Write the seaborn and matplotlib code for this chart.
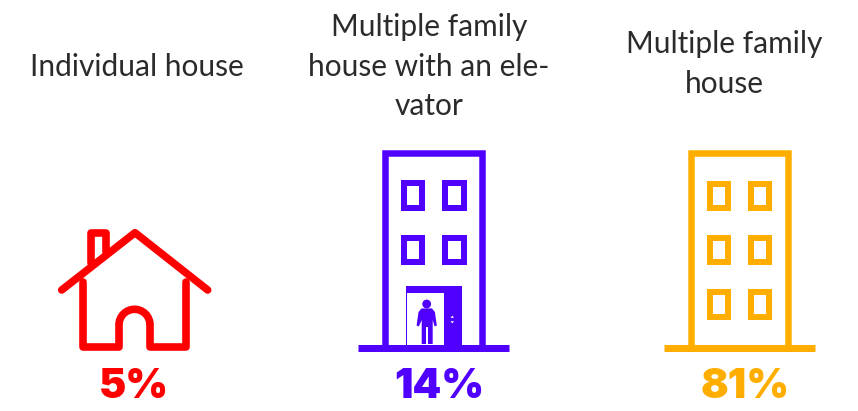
import matplotlib
matplotlib.use("Agg")
import matplotlib.pyplot as plt
from matplotlib.patches import Arc, Circle, Polygon, Rectangle
import seaborn as sns

categories = ["Individual house", "Multiple family\nhouse with an ele-\nvator", "Multiple family\nhouse"]
shares = [5, 14, 81]
colors = ["#FF0000", "#5000FF", "#FFAE00"]

label_x = [137, 429, 724]
label_y = [66.5, 66.5, 64]
share_x = [133.5, 439.5, 745]
share_y = 387

sns.set_theme(style="white")
plt.rcParams["font.family"] = ["Lato", "DejaVu Sans"]
palette = sns.color_palette(colors)


def line(ax, xs, ys, color, lw=6.5, cap="round", join="round"):
    # lw comes in pixels, figure is at 100 dpi
    ax.plot(xs, ys, color=color, lw=lw * 0.72, solid_capstyle=cap, solid_joinstyle=join)


def box(ax, x0, y0, x1, y1, color, lw=6):
    ax.add_patch(Rectangle((x0, y0), x1 - x0, y1 - y0, fill=False, ec=color,
                           lw=lw * 0.72, joinstyle="miter"))


def house(ax, color):
    line(ax, [61.7, 135, 207.7], [290, 232.7, 290], color, 7.6)
    line(ax, [90.7, 90.7, 106, 106], [263, 232.7, 232.7, 251.7], color, 7.6)
    line(ax, [83.3, 83.3, 119, 119], [281.7, 347.3, 347.3, 324.8], color, 7.6)
    line(ax, [186, 186, 150, 150], [281.7, 347.3, 347.3, 324.8], color, 7.6)
    ax.add_patch(Arc((134.5, 324.8), 31, 31, theta1=180, theta2=360, ec=color, lw=7.6 * 0.72))


def tower(ax, left, right, color):
    line(ax, [left, left, right, right], [347, 152.7, 152.7, 347], color, 6.5, "butt", "miter")
    line(ax, [left - 27, right + 27], [347.5, 347.5], color, 7, "butt")


def windows(ax, cols, rows, color):
    for x0, x1 in cols:
        for y0, y1 in rows:
            box(ax, x0, y0, x1, y1, color)


def elevator(ax, color):
    ax.add_patch(Rectangle((405.7, 286), 56, 60, fc=color, ec="none"))
    ax.add_patch(Rectangle((407.3, 293.3), 37, 52, fc="white", ec="none"))
    ax.add_patch(Polygon([(450.6, 317.8), (452.3, 315.6), (454, 317.8)], fc="white", ec="none"))
    ax.add_patch(Polygon([(450.6, 321.2), (452.3, 323.4), (454, 321.2)], fc="white", ec="none"))
    # person
    ax.add_patch(Circle((426.7, 304), 4.4, fc=color, ec="none"))
    ax.add_patch(Polygon([(421.7, 344), (421.7, 320), (418.8, 326.5), (416.6, 325.5),
                          (418.5, 312), (421.5, 308.4), (431.9, 308.4), (434.9, 312),
                          (436.8, 325.5), (434.6, 326.5), (432.7, 320), (432.7, 344)],
                         fc=color, ec="none"))
    ax.add_patch(Rectangle((426.2, 327), 1.8, 18, fc="white", ec="none"))


fig, ax = plt.subplots(figsize=(8.58, 4.11), dpi=100)
fig.subplots_adjust(0, 0, 1, 1)
ax.set_xlim(0, 858)
ax.set_ylim(411, 0)
ax.set_axis_off()

house(ax, palette[0])

tower(ax, 384.6, 482.3, palette[1])
windows(ax, [(403.7, 422), (445.3, 463.7)], [(183, 207.7), (238, 262.3)], palette[1])
elevator(ax, palette[1])

tower(ax, 690.7, 787.5, palette[2])
windows(ax, [(709.7, 728), (750.7, 769.3)],
        [(183.7, 208), (238, 262.3), (292, 317)], palette[2])

for name, lx, ly, value, sx, color in zip(categories, label_x, label_y, shares, share_x, palette):
    ax.text(lx, ly, name, ha="center", va="center", fontsize=21.5, color="#2B2B2B",
            linespacing=1.52)
    ax.text(sx, share_y, f"{value}%", ha="center", va="center", fontsize=29.5,
            color=color, fontweight="black", family=["Inter", "Lato"])

fig.savefig("out.png", dpi=100)
